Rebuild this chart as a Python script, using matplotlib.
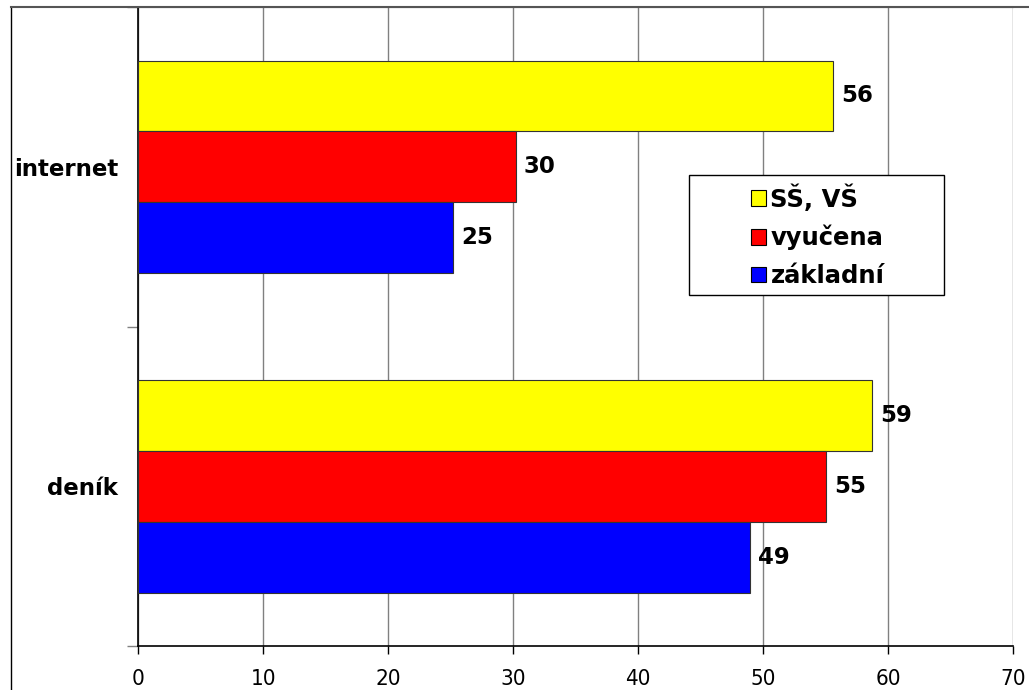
import matplotlib.pyplot as plt
import numpy as np
from matplotlib.lines import Line2D
from matplotlib.patches import Rectangle, Patch

categories = ['deník', 'internet']
series = ['SŠ, VŠ', 'vyučena', 'základní']
colors = ['#ffff00', '#ff0000', '#0000ff']
values = {
    'SŠ, VŠ': [58.7, 55.6],
    'vyučena': [55.0, 30.2],
    'základní': [48.9, 25.2],
}
x_ticks = [0, 10, 20, 30, 40, 50, 60, 70]

plt.rcParams['font.family'] = ['DejaVu Sans']

fig = plt.figure(figsize=(10.29, 6.9), dpi=100)
ax = fig.add_axes([0.1344, 0.0642, 0.8503, 0.9252])

bar_h = 1 / 4.5
y = np.arange(len(categories))
offsets = [bar_h, 0, -bar_h]
for name, col, off in zip(series, colors, offsets):
    vals = values[name]
    ax.barh(y + off, vals, height=bar_h, color=col, edgecolor='#333333',
            linewidth=0.8, zorder=3)
    for yy, v in zip(y + off, vals):
        ax.text(v + 0.65, yy, '%.0f' % v, va='center', ha='left',
                fontsize=16.5, fontweight='bold', zorder=4)

ax.set_xlim(0, 70)
ax.set_ylim(-0.5, 1.5)
ax.set_xticks(x_ticks)
ax.set_xticklabels([str(t) for t in x_ticks], fontsize=16, fontstretch='condensed')
ax.tick_params(axis='x', direction='out', length=6, width=1, pad=11, color='black')

ax.set_yticks([-0.5, 0.5, 1.5])
ax.set_yticklabels([])
ax.set_yticks(y, minor=True)
ax.set_yticklabels(categories, minor=True, fontsize=16.5, fontweight='bold')
ax.tick_params(axis='y', which='major', direction='out', length=8, width=1, color='#808080')
ax.tick_params(axis='y', which='minor', length=0, pad=14.5)

ax.grid(axis='x', color='#808080', linewidth=1, zorder=0)
ax.set_axisbelow(True)
ax.spines['right'].set_visible(False)
ax.spines['top'].set_color('#555555')
ax.spines['left'].set_color('black')
ax.spines['bottom'].set_color('black')
ax.spines['left'].set_linewidth(1.2)
ax.spines['bottom'].set_linewidth(1.2)

# outer chart frame (top and left visible)
fig.add_artist(Line2D([11 / 1029, 11 / 1029], [0, 1 - 7.3 / 690], color='black', linewidth=1))
fig.add_artist(Line2D([11 / 1029, 1], [1 - 7.3 / 690, 1 - 7.3 / 690], color='#555555', linewidth=1.5))

# legend with its own frame
fig.add_artist(Rectangle((689 / 1029, 1 - 295 / 690), 255 / 1029, 120 / 690,
                         facecolor='white', edgecolor='black', linewidth=1, zorder=5))
handles = [Patch(facecolor=c, edgecolor='black', linewidth=0.8) for c in colors]
leg = fig.legend(handles, series, loc='center left', bbox_to_anchor=(751 / 1029, 1 - 236 / 690),
                 frameon=False, prop={'size': 17.5, 'weight': 'bold'},
                 handlelength=0.6, handleheight=0.6, handletextpad=0.2,
                 labelspacing=0.55, borderpad=0, borderaxespad=0)
leg.set_zorder(6)

fig.savefig('out.png', dpi=100)
